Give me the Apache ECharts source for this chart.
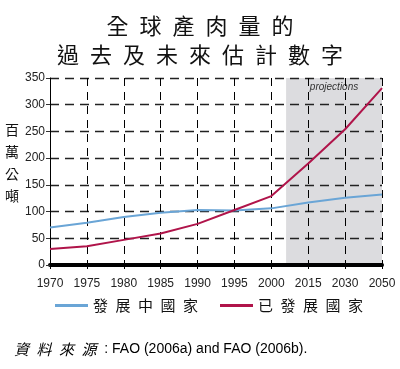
<!DOCTYPE html>
<html><head><meta charset="utf-8">
<script src="https://cdn.jsdelivr.net/npm/echarts@6/dist/echarts.min.js"></script>
<style>html,body{margin:0;padding:0;background:#fff}#c{width:400px;height:369px}</style>
</head><body><div id="c"></div>
<script>
var years = ['1970','1975','1980','1985','1990','1995','2000','2015','2030','2050'];
var developing = [70, 79, 90, 98, 103, 102, 106, 117, 126, 132];
var developed = [30, 35, 47, 59, 77, 103, 129, 190, 254, 331];
var yTicks = [0, 50, 100, 150, 200, 250, 300, 350];
var projStart = 6.4; // category-index position where projections shading begins

var chart = echarts.init(document.getElementById('c'));
var cjk = '"Noto Sans CJK TC", "Noto Sans CJK SC", sans-serif';
function spaced(s, sp){ return s.split('').join(sp); }
chart.setOption({
  animation: false,
  title: {
    text: spaced('全球產肉量的', '\u2002') + '\n' + spaced('過去及未來估計數字', '\u2002'),
    left: 'center', top: 6,
    textStyle: { fontFamily: cjk, fontSize: 22, fontWeight: 'normal', color: '#111', lineHeight: 29 }
  },
  graphic: [
    { type: 'text', left: 5, top: 119, style: { text: '百\n萬\n公\n噸', font: '14px ' + cjk, lineHeight: 22, fill: '#111' } },
    { type: 'text', left: 14, top: 342, style: {
        text: '{a|' + spaced('資料來源', '\u2002') + '}{b|  : FAO (2006a) and FAO (2006b).}',
        rich: { a: { fontFamily: cjk, fontSize: 15, fontStyle: 'italic', color: '#111' },
                b: { fontFamily: 'Arial, "Liberation Sans", sans-serif', fontSize: 14, color: '#111' } } } }
  ],
  legend: {
    top: 293, left: 50, itemGap: 22, itemWidth: 33, itemHeight: 3, icon: 'rect',
    data: ['發展中國家', '已發展國家'],
    formatter: function(n){ return spaced(n, '\u2002'); },
    textStyle: { fontFamily: cjk, fontSize: 15, color: '#111' }
  },
  grid: { left: 50, right: 18, top: 78, bottom: 104 },
  xAxis: {
    type: 'value', min: 0, max: years.length - 1, interval: 1,
    axisLine: { show: true, onZero: false, lineStyle: { color: '#000', width: 4 } },
    axisTick: { show: true, length: 4, lineStyle: { color: '#000' } },
    axisLabel: { formatter: function(v){ return years[v] || ''; }, color: '#222', fontSize: 12, margin: 13, fontFamily: 'Arial, "Liberation Sans", sans-serif' },
    splitLine: { show: true, lineStyle: { color: '#000', type: [8, 6], width: 1 } }
  },
  yAxis: {
    type: 'value', min: yTicks[0], max: yTicks[yTicks.length - 1], interval: 50,
    axisLine: { show: true, lineStyle: { color: '#000', width: 1 } },
    axisTick: { show: true, length: 4, lineStyle: { color: '#333' } },
    axisLabel: { color: '#222', fontSize: 12, margin: 5, fontFamily: 'Arial, "Liberation Sans", sans-serif' },
    splitLine: { show: true, lineStyle: { color: '#222', type: [9, 6], width: 1.4 } }
  },
  series: [
    { name: 'shade', type: 'line', data: [], z: -1, silent: true,
      markArea: { silent: true, z: -1, itemStyle: { color: '#dcdcdf' },
        label: { show: true, position: 'insideTop', distance: 4, formatter: 'projections', fontStyle: 'italic', fontSize: 10, color: '#333', fontFamily: 'Arial, sans-serif' },
        data: [[{ xAxis: projStart }, { xAxis: years.length - 1 }]] } },
    { name: '發展中國家', type: 'line', symbol: 'none', z: 3,
      data: developing.map(function(v, i){ return [i, v]; }),
      lineStyle: { color: '#6aa5d6', width: 2 }, itemStyle: { color: '#6aa5d6' } },
    { name: '已發展國家', type: 'line', symbol: 'none', z: 4,
      data: developed.map(function(v, i){ return [i, v]; }),
      lineStyle: { color: '#b0144a', width: 2 }, itemStyle: { color: '#b0144a' } }
  ]
});
</script></body></html>
